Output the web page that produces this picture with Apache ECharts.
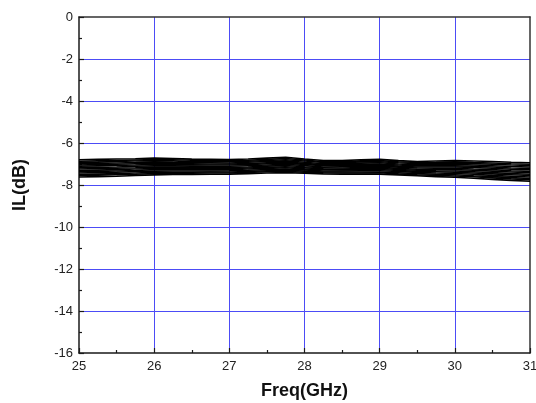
<!DOCTYPE html>
<html>
<head>
<meta charset="utf-8">
<script src="https://cdn.jsdelivr.net/npm/echarts@6/dist/echarts.min.js"></script>
<style>
html,body{margin:0;padding:0;background:#fff;overflow:hidden;}
#chart{width:536px;height:403px;}
</style>
</head>
<body>
<div id="chart"></div>
<script>
var freq = [25.00,25.25,25.50,25.75,26.00,26.25,26.50,26.75,27.00,27.25,27.50,27.75,28.00,28.25,28.50,28.75,29.00,29.25,29.50,29.75,30.00,30.25,30.50,30.75,31.00];
var xTicks = {min: 25, max: 31, interval: 1};
var yTicks = {min: -16, max: 0, interval: 2};

var trace01 = [-6.80,-6.78,-6.76,-6.75,-6.72,-6.74,-6.77,-6.78,-6.79,-6.76,-6.72,-6.68,-6.76,-6.83,-6.84,-6.80,-6.78,-6.84,-6.88,-6.86,-6.84,-6.86,-6.88,-6.92,-6.94];
var trace02 = [-6.87,-6.85,-6.83,-6.81,-6.79,-6.80,-6.82,-6.84,-6.85,-6.82,-6.78,-6.74,-6.81,-6.89,-6.89,-6.85,-6.84,-6.89,-6.93,-6.92,-6.90,-6.93,-6.95,-6.99,-7.01];
var trace03 = [-6.92,-6.91,-6.88,-6.86,-6.84,-6.85,-6.89,-6.89,-6.89,-6.87,-6.83,-6.80,-6.86,-6.93,-6.94,-6.90,-6.89,-6.94,-6.98,-6.97,-6.96,-6.98,-7.01,-7.05,-7.07];
var trace04 = [-6.99,-6.97,-6.95,-6.93,-6.90,-6.92,-6.93,-6.94,-6.95,-6.92,-6.88,-6.85,-6.92,-6.99,-6.99,-6.96,-6.94,-7.00,-7.04,-7.03,-7.02,-7.05,-7.08,-7.12,-7.14];
var trace05 = [-7.05,-7.03,-7.01,-6.99,-6.97,-6.98,-6.99,-7.00,-7.00,-6.98,-6.94,-6.91,-6.97,-7.04,-7.04,-7.01,-7.00,-7.05,-7.09,-7.09,-7.09,-7.11,-7.14,-7.19,-7.21];
var trace06 = [-7.11,-7.09,-7.07,-7.05,-7.02,-7.03,-7.04,-7.05,-7.05,-7.03,-6.99,-6.96,-7.02,-7.08,-7.08,-7.06,-7.05,-7.10,-7.14,-7.14,-7.14,-7.17,-7.20,-7.25,-7.27];
var trace07 = [-7.18,-7.16,-7.14,-7.11,-7.09,-7.09,-7.10,-7.11,-7.11,-7.08,-7.05,-7.02,-7.07,-7.15,-7.13,-7.11,-7.10,-7.15,-7.19,-7.20,-7.20,-7.24,-7.27,-7.32,-7.35];
var trace08 = [-7.24,-7.22,-7.20,-7.18,-7.15,-7.15,-7.16,-7.16,-7.16,-7.14,-7.10,-7.07,-7.13,-7.18,-7.19,-7.17,-7.16,-7.21,-7.25,-7.26,-7.27,-7.30,-7.34,-7.38,-7.42];
var trace09 = [-7.31,-7.29,-7.27,-7.24,-7.22,-7.21,-7.22,-7.22,-7.22,-7.19,-7.16,-7.13,-7.18,-7.23,-7.24,-7.22,-7.21,-7.26,-7.30,-7.32,-7.33,-7.37,-7.41,-7.45,-7.49];
var trace10 = [-7.37,-7.35,-7.33,-7.31,-7.27,-7.26,-7.27,-7.27,-7.27,-7.24,-7.21,-7.18,-7.23,-7.27,-7.28,-7.27,-7.26,-7.31,-7.35,-7.37,-7.39,-7.43,-7.47,-7.51,-7.55];
var trace11 = [-7.43,-7.41,-7.39,-7.36,-7.34,-7.33,-7.33,-7.33,-7.32,-7.30,-7.27,-7.24,-7.28,-7.33,-7.33,-7.32,-7.32,-7.36,-7.40,-7.43,-7.45,-7.49,-7.54,-7.58,-7.62];
var trace12 = [-7.50,-7.48,-7.46,-7.43,-7.40,-7.39,-7.39,-7.38,-7.38,-7.36,-7.32,-7.30,-7.34,-7.38,-7.38,-7.38,-7.38,-7.42,-7.46,-7.49,-7.51,-7.56,-7.60,-7.65,-7.69];
var trace13 = [-7.55,-7.53,-7.51,-7.49,-7.46,-7.44,-7.44,-7.43,-7.43,-7.40,-7.37,-7.35,-7.39,-7.42,-7.43,-7.43,-7.42,-7.47,-7.51,-7.54,-7.57,-7.61,-7.66,-7.71,-7.75];
var trace14 = [-7.62,-7.60,-7.58,-7.55,-7.52,-7.50,-7.50,-7.49,-7.48,-7.46,-7.43,-7.41,-7.44,-7.47,-7.48,-7.48,-7.48,-7.52,-7.56,-7.60,-7.63,-7.68,-7.73,-7.78,-7.82];

var traces = [trace01,trace02,trace03,trace04,trace05,trace06,trace07,trace08,trace09,trace10,trace11,trace12,trace13,trace14];

var chart = echarts.init(document.getElementById('chart'), null, {renderer: 'canvas'});
var FONT = 'Liberation Sans, Arial, sans-serif';
var BLUE = '#4c4cf6';
var AX = '#1a1a1a';

var series = traces.map(function (t, i) {
  return {
    type: 'line',
    name: 'S' + (i + 1),
    data: freq.map(function (f, j) { return [f, t[j]]; }),
    showSymbol: false,
    symbol: 'none',
    lineStyle: {color: '#000', width: 1.6},
    silent: true,
    z: 5
  };
});

chart.setOption({
  animation: false,
  backgroundColor: '#fff',
  grid: {left: 79, right: 6, top: 17, bottom: 50, show: false, containLabel: false, outerBoundsMode: 'none'},
  xAxis: [{
    type: 'value',
    min: xTicks.min, max: xTicks.max, interval: xTicks.interval,
    name: 'Freq(GHz)', nameLocation: 'middle', nameGap: 29,
    nameTextStyle: {fontFamily: FONT, fontSize: 18, fontWeight: 'bold', color: '#111'},
    axisLine: {show: true, onZero: false, lineStyle: {color: AX, width: 1.5}},
    axisTick: {show: true, inside: true, length: 5, lineStyle: {color: AX, width: 1.2}},
    minorTick: {show: true, splitNumber: 2, length: 3, lineStyle: {color: AX, width: 1.2}},
    axisLabel: {fontFamily: FONT, fontSize: 13, color: '#222', margin: 7},
    splitLine: {show: true, showMinLine: false, showMaxLine: false, lineStyle: {color: BLUE, width: 1}}
  }, {
    type: 'value', position: 'top',
    min: xTicks.min, max: xTicks.max, interval: xTicks.interval,
    axisLine: {show: true, onZero: false, lineStyle: {color: '#333', width: 1.5}},
    axisTick: {show: false}, axisLabel: {show: false}, splitLine: {show: false}
  }],
  yAxis: [{
    type: 'value',
    min: yTicks.min, max: yTicks.max, interval: yTicks.interval,
    name: 'IL(dB)', nameLocation: 'middle', nameGap: 50,
    nameTextStyle: {fontFamily: FONT, fontSize: 18, fontWeight: 'bold', color: '#111'},
    axisLine: {show: true, onZero: false, lineStyle: {color: AX, width: 1.5}},
    axisTick: {show: true, inside: true, length: 5, lineStyle: {color: AX, width: 1.2}},
    minorTick: {show: true, splitNumber: 2, length: 3, lineStyle: {color: AX, width: 1.2}},
    axisLabel: {fontFamily: FONT, fontSize: 13, color: '#222', margin: 6},
    splitLine: {show: true, showMinLine: false, showMaxLine: false, lineStyle: {color: BLUE, width: 1}}
  }, {
    type: 'value', position: 'right',
    min: yTicks.min, max: yTicks.max, interval: yTicks.interval,
    axisLine: {show: true, onZero: false, lineStyle: {color: '#333', width: 1.5}},
    axisTick: {show: false}, axisLabel: {show: false}, splitLine: {show: false}
  }],
  series: series
});
</script>
</body>
</html>
